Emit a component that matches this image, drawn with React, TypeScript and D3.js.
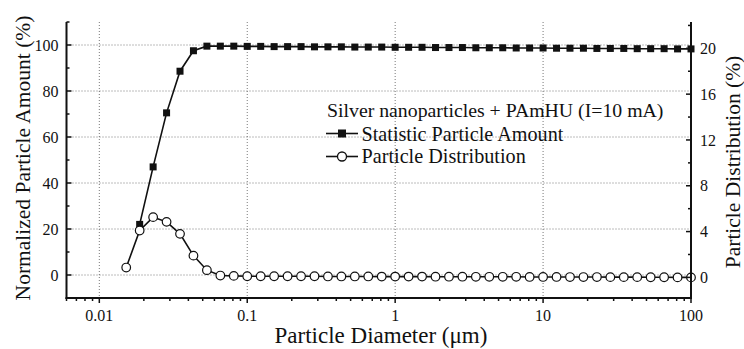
import React from 'react';
import * as d3 from 'd3';

// particle diameter in um (log bins, 11 per decade)
const diameters = [
  0.0152, 0.01874, 0.02311, 0.02849, 0.03512, 0.04329, 0.05337, 0.0658, 0.08111, 0.1,
  0.1233, 0.152, 0.1874, 0.2311, 0.2849, 0.3512, 0.4329, 0.5337, 0.658, 0.8111, 1,
  1.233, 1.52, 1.874, 2.311, 2.849, 3.512, 4.329, 5.337, 6.58, 8.111, 10,
  12.33, 15.2, 18.74, 23.11, 28.49, 35.12, 43.29, 53.37, 65.8, 81.11, 100,
];

// statistic particle amount (%), left axis, starts at the 2nd bin
const amount = [
  null, 22.0, 47.0, 70.5, 88.6, 97.5, 99.5, 99.5, 99.5, 99.4,
  99.4, 99.3, 99.3, 99.3, 99.2, 99.2, 99.2, 99.1, 99.1, 99.1, 99.0,
  99.0, 99.0, 98.9, 98.9, 98.9, 98.8, 98.8, 98.8, 98.7, 98.7, 98.7,
  98.6, 98.6, 98.6, 98.5, 98.5, 98.5, 98.4, 98.4, 98.4, 98.3, 98.3,
];

// particle distribution (%), right axis
const distribution = [
  0.86, 4.09, 5.26, 4.85, 3.8, 1.9, 0.63, 0.16, 0.13, 0.1,
  0.1, 0.1, 0.1, 0.1, 0.1, 0.08, 0.08, 0.08, 0.08, 0.07, 0.07,
  0.07, 0.07, 0.06, 0.06, 0.06, 0.05, 0.05, 0.05, 0.05, 0.04, 0.04,
  0.04, 0.03, 0.03, 0.03, 0.02, 0.02, 0.02, 0.01, 0.01, 0.0, 0.0,
];

const leftMajor = [0, 20, 40, 60, 80, 100];
const leftMinor = [-10, 10, 30, 50, 70, 90, 110];
const rightMajor = [0, 4, 8, 12, 16, 20];
const rightMinor = [2, 6, 10, 14, 18, 22];
const xMajor = [0.01, 0.1, 1, 10, 100];
const xMajorLabels = ['0.01', '0.1', '1', '10', '100'];

const legendTitle = 'Silver nanoparticles + PAmHU (I=10 mA)';
const seriesNames = ['Statistic Particle Amount', 'Particle Distribution'];

const FONT = "'Liberation Serif', 'DejaVu Serif', 'Times New Roman', serif";
const INK = '#111';

export default function App() {
  const L = 66.5, R = 691, T = 22, B = 298;

  const x = d3.scaleLog().domain([0.006, 100]).range([L, R]);
  const yL = d3.scaleLinear().domain([-10, 110]).range([B, T]);
  const yR = d3.scaleLinear().domain([-1.8, 22.3]).range([B, T]);

  const xMinor = x.ticks().filter(t => !xMajor.some(m => Math.abs(m - t) < 1e-9));

  const amountPts = diameters
    .map((d, i) => ({ d, v: amount[i] }))
    .filter(p => p.v != null) as { d: number; v: number }[];
  const distPts = diameters.map((d, i) => ({ d, v: distribution[i] }));

  const lineL = d3.line<{ d: number; v: number }>().x(p => x(p.d)).y(p => yL(p.v));
  const lineR = d3.line<{ d: number; v: number }>().x(p => x(p.d)).y(p => yR(p.v));

  const sq = 7;

  return (
    <svg width={744} height={349}
      style={{ position: 'absolute', left: 0, top: 0, background: '#fff', fontFamily: FONT }}
      fill={INK}>
      {/* grid */}
      <g stroke="#555" strokeWidth={0.8} strokeDasharray="1,2">
        {leftMajor.map(v => (
          <line key={'gy' + v} x1={L} x2={R} y1={yL(v)} y2={yL(v)} />
        ))}
        {xMajor.slice(0, 4).map(v => (
          <line key={'gx' + v} x1={x(v)} x2={x(v)} y1={T} y2={B} />
        ))}
      </g>

      {/* series */}
      <path d={lineR(distPts) || ''} fill="none" stroke={INK} strokeWidth={1.6} />
      <path d={lineL(amountPts) || ''} fill="none" stroke={INK} strokeWidth={1.6} />
      {amountPts.map((p, i) => (
        <rect key={'s' + i} x={x(p.d) - sq / 2} y={yL(p.v) - sq / 2} width={sq} height={sq} fill={INK} />
      ))}
      {distPts.map((p, i) => (
        <circle key={'c' + i} cx={x(p.d)} cy={yR(p.v)} r={4.3} fill="#fff" stroke={INK} strokeWidth={1.2} />
      ))}

      {/* axes */}
      <g stroke={INK} strokeWidth={2}>
        <line x1={L} x2={L} y1={T} y2={B + 1} />
        <line x1={R} x2={R} y1={T} y2={B + 1} />
        <line x1={L - 1} x2={R + 1} y1={B} y2={B} />
      </g>
      <g stroke={INK} strokeWidth={1.5}>
        {leftMajor.map(v => <line key={'lM' + v} x1={L} x2={L + 5} y1={yL(v)} y2={yL(v)} />)}
        {leftMinor.map(v => <line key={'lm' + v} x1={L} x2={L + 3} y1={yL(v)} y2={yL(v)} />)}
        {rightMajor.map(v => <line key={'rM' + v} x1={R} x2={R - 5} y1={yR(v)} y2={yR(v)} />)}
        {rightMinor.map(v => <line key={'rm' + v} x1={R} x2={R - 3} y1={yR(v)} y2={yR(v)} />)}
        {xMajor.map(v => <line key={'xM' + v} x1={x(v)} x2={x(v)} y1={B} y2={B + 5} />)}
        {xMinor.map(v => <line key={'xm' + v} x1={x(v)} x2={x(v)} y1={B} y2={B + 3} />)}
      </g>

      {/* tick labels */}
      <g fontSize={16}>
        {leftMajor.map(v => (
          <text key={'lt' + v} x={L - 8} y={yL(v)} dy="0.35em" textAnchor="end">{v}</text>
        ))}
        {rightMajor.map(v => (
          <text key={'rt' + v} x={R + 9} y={yR(v)} dy="0.35em" textAnchor="start">{v}</text>
        ))}
        {xMajor.map((v, i) => (
          <text key={'xt' + v} x={x(v)} y={321} textAnchor="middle">{xMajorLabels[i]}</text>
        ))}
      </g>

      {/* axis titles */}
      <text x={381} y={343} fontSize={23} textAnchor="middle">Particle Diameter (μm)</text>
      <text transform="translate(30,158) rotate(-90)" fontSize={21.5} textAnchor="middle">
        Normalized Particle Amount (%)
      </text>
      <text transform="translate(740,162) rotate(-90)" fontSize={21.5} textAnchor="middle">
        Particle Distribution (%)
      </text>

      {/* legend */}
      <g fontSize={20.2}>
        <text x={327} y={117} fontSize={19.8}>{legendTitle}</text>
        <line x1={326} x2={358} y1={133.5} y2={133.5} stroke={INK} strokeWidth={1.6} />
        <rect x={342 - 4} y={133.5 - 4} width={8} height={8} fill={INK} />
        <text x={361.5} y={140.5}>{seriesNames[0]}</text>
        <line x1={326} x2={358} y1={156.5} y2={156.5} stroke={INK} strokeWidth={1.6} />
        <circle cx={342} cy={156.5} r={4.5} fill="#fff" stroke={INK} strokeWidth={1.3} />
        <text x={361.5} y={163}>{seriesNames[1]}</text>
      </g>
    </svg>
  );
}
